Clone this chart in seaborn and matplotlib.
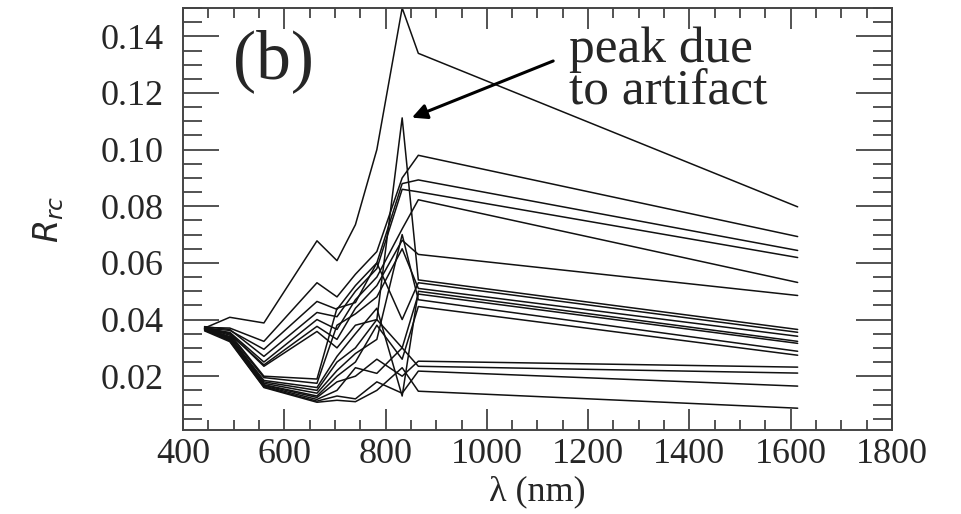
import numpy as np
import pandas as pd
import matplotlib
matplotlib.use("Agg")
import matplotlib.pyplot as plt
from matplotlib.ticker import MultipleLocator, FormatStrFormatter
import seaborn as sns

# Sentinel-2 band centres (nm)
wavelengths = [442.7, 492.4, 559.8, 664.6, 704.1, 740.5, 782.8, 832.8, 864.7, 1613.7]

# Rayleigh-corrected reflectance spectra
s01 = [0.0370, 0.0408, 0.0388, 0.0678, 0.0608, 0.0735, 0.1000, 0.1500, 0.1340, 0.0798]
s02 = [0.0372, 0.0370, 0.0323, 0.0530, 0.0480, 0.0560, 0.0640, 0.0900, 0.0980, 0.0693]
s03 = [0.0368, 0.0362, 0.0295, 0.0464, 0.0436, 0.0520, 0.0600, 0.0880, 0.0893, 0.0644]
s04 = [0.0375, 0.0365, 0.0270, 0.0425, 0.0410, 0.0500, 0.0580, 0.0860, 0.0851, 0.0619]
s05 = [0.0365, 0.0355, 0.0250, 0.0400, 0.0365, 0.0470, 0.0550, 0.0720, 0.0823, 0.0531]
s06 = [0.0370, 0.0350, 0.0240, 0.0376, 0.0330, 0.0440, 0.0520, 0.0680, 0.0630, 0.0485]
s07 = [0.0368, 0.0352, 0.0235, 0.0358, 0.0300, 0.0380, 0.0400, 0.1112, 0.0540, 0.0365]
s08 = [0.0375, 0.0350, 0.0200, 0.0190, 0.0440, 0.0460, 0.0600, 0.0400, 0.0530, 0.0355]
s09 = [0.0370, 0.0345, 0.0195, 0.0175, 0.0380, 0.0420, 0.0480, 0.0650, 0.0510, 0.0341]
s10 = [0.0365, 0.0340, 0.0185, 0.0160, 0.0270, 0.0350, 0.0440, 0.0130, 0.0500, 0.0323]
s11 = [0.0372, 0.0338, 0.0180, 0.0150, 0.0250, 0.0300, 0.0400, 0.0300, 0.0490, 0.0316]
s12 = [0.0368, 0.0335, 0.0175, 0.0140, 0.0220, 0.0280, 0.0330, 0.0700, 0.0470, 0.0288]
s13 = [0.0362, 0.0330, 0.0170, 0.0130, 0.0200, 0.0250, 0.0380, 0.0260, 0.0446, 0.0274]
s14 = [0.0370, 0.0332, 0.0168, 0.0125, 0.0180, 0.0200, 0.0260, 0.0200, 0.0253, 0.0232]
s15 = [0.0366, 0.0328, 0.0165, 0.0118, 0.0150, 0.0230, 0.0210, 0.0300, 0.0235, 0.0211]
s16 = [0.0364, 0.0325, 0.0162, 0.0112, 0.0130, 0.0120, 0.0180, 0.0140, 0.0218, 0.0165]
s17 = [0.0360, 0.0322, 0.0160, 0.0108, 0.0115, 0.0110, 0.0150, 0.0230, 0.0147, 0.0087]

spectra = [s01, s02, s03, s04, s05, s06, s07, s08, s09, s10,
           s11, s12, s13, s14, s15, s16, s17]

x_ticks = [400, 600, 800, 1000, 1200, 1400, 1600, 1800]
y_ticks = [0.02, 0.04, 0.06, 0.08, 0.10, 0.12, 0.14]

rows = []
for i, s in enumerate(spectra):
    for w, r in zip(wavelengths, s):
        rows.append({"id": i, "wl": w, "R": r})
df = pd.DataFrame(rows)

sns.set_style("ticks")
plt.rcParams["font.family"] = ["Liberation Serif", "DejaVu Serif"]
plt.rcParams["mathtext.fontset"] = "dejavusans"

fig = plt.figure(figsize=(9.61, 5.14), dpi=100)
ax = fig.add_axes([0.1904, 0.1634, 0.9282 - 0.1904, 0.9844 - 0.1634])

sns.lineplot(data=df, x="wl", y="R", units="id", estimator=None,
             color="#111111", lw=1.1, ax=ax, legend=False)

ax.set_xlim(400, 1800)
ax.set_ylim(0.001, 0.15)
ax.set_xticks(x_ticks)
ax.set_yticks(y_ticks)
ax.xaxis.set_minor_locator(MultipleLocator(50))
ax.yaxis.set_minor_locator(MultipleLocator(0.005))
ax.yaxis.set_major_formatter(FormatStrFormatter("%.2f"))

spine_col = "#444444"
for sp in ax.spines.values():
    sp.set_visible(True)
    sp.set_linewidth(1.4)
    sp.set_color(spine_col)

ax.tick_params(axis="x", which="major", direction="in", length=15, width=1.3,
               top=True, bottom=True, color=spine_col, labelsize=26, pad=6)
ax.tick_params(axis="x", which="minor", direction="in", length=7.5, width=1.3,
               top=True, bottom=True, color=spine_col)
ax.tick_params(axis="y", which="major", direction="in", length=26, width=1.3,
               left=True, right=True, color=spine_col, labelsize=26, pad=14)
ax.tick_params(axis="y", which="minor", direction="in", length=13.5, width=1.3,
               left=True, right=True, color=spine_col)

ax.set_xlabel("λ (nm)", fontsize=26, labelpad=3)
ax.set_ylabel(r"$R_{rc}$", fontsize=24, labelpad=25)

ax.text(0.07, 0.875, "(b)", transform=ax.transAxes, fontsize=50,
        ha="left", va="center")

ax.text(1162, 0.1310, "peak due", fontsize=37, ha="left", va="baseline")
ax.text(1162, 0.1158, "to artifact", fontsize=37, ha="left", va="baseline")

ax.annotate("", xy=(852, 0.1113), xytext=(1131, 0.1313),
            arrowprops=dict(arrowstyle="-|>,head_length=0.9,head_width=0.45",
                            color="black", lw=2.2, shrinkA=0, shrinkB=0))

fig.savefig("out.png", dpi=100)
